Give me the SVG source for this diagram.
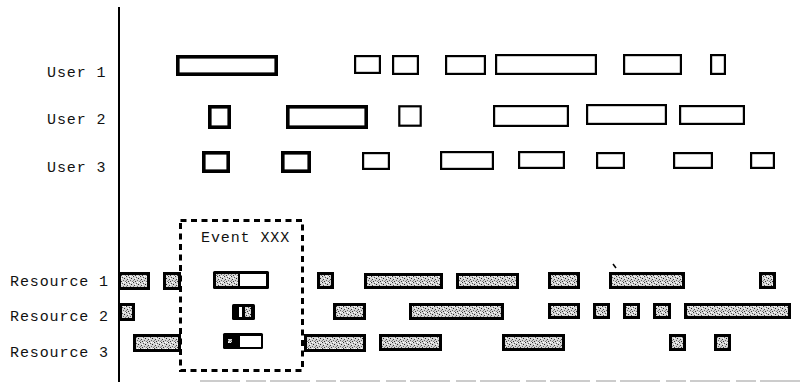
<svg xmlns="http://www.w3.org/2000/svg" width="802" height="382" viewBox="0 0 802 382">
<defs>
<pattern id="grain" width="7" height="6" patternUnits="userSpaceOnUse">
<rect width="7" height="6" fill="#d4d4d4"/>
<rect x="0" y="0" width="1" height="1" fill="#333"/>
<rect x="3" y="1" width="1" height="1" fill="#555"/>
<rect x="5" y="2" width="1" height="1" fill="#222"/>
<rect x="1" y="3" width="1" height="1" fill="#444"/>
<rect x="4" y="4" width="1" height="1" fill="#666"/>
<rect x="2" y="5" width="1" height="1" fill="#333"/>
<rect x="6" y="5" width="1" height="1" fill="#777"/>
<rect x="6" y="0" width="1" height="1" fill="#fff"/>
<rect x="2" y="2" width="1" height="1" fill="#fff"/>
<rect x="4" y="0" width="1" height="1" fill="#fff"/>
<rect x="0" y="4" width="1" height="1" fill="#888"/>
</pattern>
<style>
.lbl{font-family:"Liberation Mono","DejaVu Sans Mono",monospace;font-size:15px;fill:#111;letter-spacing:0.9px}
.uk{fill:#fff;stroke:#000;stroke-width:3.6}
.ut{fill:#fff;stroke:#000;stroke-width:2.2}
.rb{fill:url(#grain);stroke:#000;stroke-width:3}
.blk{fill:#000}
.wh{fill:#fff}
.gr{fill:url(#grain)}
</style>
</defs>
<rect width="802" height="382" fill="#fff"/>

<g id="axis">
<line x1="119" y1="7" x2="119" y2="382" stroke="#000" stroke-width="2"/>
<line x1="200" y1="381" x2="802" y2="381" stroke="#999" stroke-width="1" stroke-dasharray="40 6 20 4"/>
</g>

<g id="labels">
<text class="lbl" x="47" y="77">User 1</text>
<text class="lbl" x="47" y="124">User 2</text>
<text class="lbl" x="47" y="172">User 3</text>
<text class="lbl" x="10" y="286">Resource 1</text>
<text class="lbl" x="10" y="321">Resource 2</text>
<text class="lbl" x="10" y="357">Resource 3</text>
</g>

<g id="user1">
<rect class="uk" x="177.8" y="56.8" width="98.4" height="17.4"/>
<rect class="ut" x="355.1" y="56.1" width="24.8" height="16.8"/>
<rect class="ut" x="393.1" y="56.1" width="24.8" height="17.8"/>
<rect class="ut" x="446.1" y="56.1" width="38.8" height="17.8"/>
<rect class="ut" x="496.1" y="55.1" width="99.8" height="18.8"/>
<rect class="ut" x="624.1" y="55.1" width="56.8" height="18.8"/>
<rect class="ut" x="711.1" y="55.1" width="13.8" height="18.8"/>
</g>

<g id="user2">
<rect class="uk" x="209.8" y="106.8" width="19.4" height="20.4"/>
<rect class="uk" x="287.8" y="106.8" width="78.4" height="20.4"/>
<rect class="ut" x="399.3" y="106.3" width="21.4" height="19.4"/>
<rect class="ut" x="494.1" y="106.1" width="73.8" height="19.8"/>
<rect class="ut" x="587.1" y="105.1" width="78.8" height="18.8"/>
<rect class="ut" x="680.1" y="106.1" width="63.8" height="17.8"/>
</g>

<g id="user3">
<rect class="uk" x="203.8" y="152.8" width="24.4" height="18.4"/>
<rect class="uk" x="282.8" y="152.8" width="26.4" height="18.4"/>
<rect class="ut" x="363.1" y="153.1" width="25.8" height="15.8"/>
<rect class="ut" x="441.1" y="152.1" width="51.8" height="16.8"/>
<rect class="ut" x="519.1" y="152.1" width="44.8" height="15.8"/>
<rect class="ut" x="597.1" y="153.1" width="26.8" height="14.8"/>
<rect class="ut" x="674.1" y="153.1" width="37.8" height="14.8"/>
<rect class="ut" x="751.1" y="153.1" width="22.8" height="14.8"/>
</g>

<g id="event">
<rect x="180.5" y="220.5" width="122" height="150" fill="none" stroke="#000" stroke-width="3" stroke-dasharray="6 4.5"/>
<text class="lbl" x="201" y="242">Event XXX</text>
</g>

<g id="resource1">
<rect class="rb" x="119.5" y="273.5" width="29" height="15"/>
<rect class="rb" x="164.5" y="273.5" width="15" height="15"/>
<rect class="blk" x="213" y="271" width="56" height="18" rx="1.5"/>
<rect class="gr" x="216" y="274" width="22" height="12"/>
<rect class="wh" x="240" y="274" width="26" height="12"/>
<rect class="rb" x="318.5" y="273.5" width="14" height="14"/>
<rect class="rb" x="365.5" y="274.5" width="76" height="13"/>
<rect class="rb" x="457.5" y="274.5" width="60" height="13"/>
<rect class="rb" x="549.5" y="273.5" width="29" height="14"/>
<rect class="rb" x="610.5" y="273.5" width="73" height="14"/>
<rect class="rb" x="760.5" y="273.5" width="14" height="14"/>
<line x1="613" y1="264" x2="616" y2="268" stroke="#000" stroke-width="1.5"/>
</g>

<g id="resource2">
<rect class="rb" x="120.5" y="304.5" width="13" height="15"/>
<rect class="blk" x="232" y="304" width="23" height="16" rx="1.5"/>
<rect class="wh" x="239" y="307" width="3" height="10"/>
<rect class="gr" x="245" y="307" width="6" height="10"/>
<rect class="rb" x="334.5" y="304.5" width="30" height="14"/>
<rect class="rb" x="410.5" y="304.5" width="92" height="14"/>
<rect class="rb" x="549.5" y="304.5" width="29" height="13"/>
<rect class="rb" x="594.5" y="304.5" width="14" height="13"/>
<rect class="rb" x="624.5" y="304.5" width="14" height="13"/>
<rect class="rb" x="654.5" y="304.5" width="15" height="13"/>
<rect class="rb" x="685.5" y="304.5" width="104" height="13"/>
</g>

<g id="resource3">
<rect class="rb" x="134.5" y="335.5" width="45" height="15"/>
<rect class="blk" x="223" y="333" width="40" height="16" rx="1.5"/>
<rect class="gr" x="228" y="339" width="4" height="4"/>
<rect class="wh" x="240" y="336" width="21" height="11"/>
<rect class="rb" x="305.5" y="335.5" width="59" height="15"/>
<rect class="rb" x="380.5" y="335.5" width="60" height="14"/>
<rect class="rb" x="503.5" y="335.5" width="60" height="14"/>
<rect class="rb" x="670.5" y="335.5" width="14" height="14"/>
<rect class="rb" x="715.5" y="335.5" width="14" height="14"/>
</g>
</svg>
